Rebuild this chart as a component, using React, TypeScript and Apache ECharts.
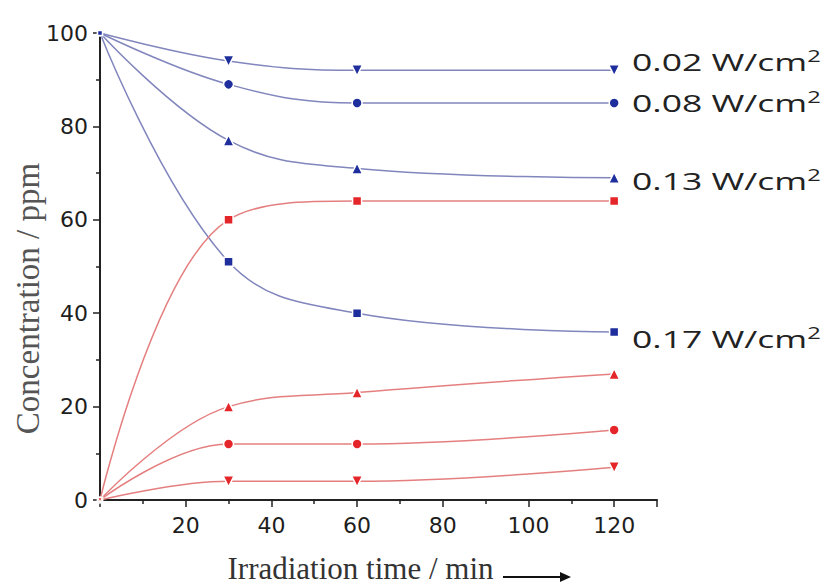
import React, { useEffect, useRef } from "react";
import * as echarts from "echarts";

const timeMin = [0, 30, 60, 120];
// blue: remaining concentration
const blue002 = [100, 94, 92, 92];
const blue008 = [100, 89, 85, 85];
const blue013 = [100, 77, 71, 69];
const blue017 = [100, 51, 40, 36];
// red: product concentration
const red017 = [0, 60, 64, 64];
const red013 = [0, 20, 23, 27];
const red008 = [0, 12, 12, 15];
const red002 = [0, 4, 4, 7];

const xTickLabels = [20, 40, 60, 80, 100, 120];
const yTickLabels = [0, 20, 40, 60, 80, 100];
const powerLabels = ["0.02", "0.08", "0.13", "0.17"];

const BLUE_LINE = "#8186bd";
const BLUE_MARK = "#1e2e9c";
const RED_LINE = "#e57f7f";
const RED_MARK = "#e4262a";

function mkSeries(name: string, vals: number[], symbol: string, rotate: number, lineColor: string, markColor: string, size: number) {
  return {
    name,
    type: "line",
    smooth: 0.4,
    data: timeMin.map((t, i) => [t, vals[i]]),
    symbol,
    symbolRotate: rotate,
    symbolSize: (v: number[]) => (v[0] === 0 ? 5 : size),
    showAllSymbol: true,
    lineStyle: { color: lineColor, width: 1.5 },
    itemStyle: { color: markColor, borderColor: "#ffffff", borderWidth: 1.5 },
    emphasis: { disabled: true },
  };
}

export default function App() {
  const ref = useRef<HTMLDivElement>(null);
  useEffect(() => {
    if (!ref.current) return;
    const chart = echarts.init(ref.current, null, { renderer: "svg" });
    const labelTops = [62, 103, 181, 339];
    const option = {
      animation: false,
      backgroundColor: "#ffffff",
      grid: { left: 100, top: 33, right: 168, bottom: 85, containLabel: false, outerBoundsMode: "none" },
      xAxis: {
        type: "value",
        min: 0,
        max: 130,
        interval: 20,
        name: "Irradiation time / min",
        nameLocation: "middle",
        nameGap: 53,
        nameTextStyle: {
          fontFamily: "Liberation Serif",
          fontSize: 31,
          color: "#333333",
          padding: [0, 36, 0, 0],
        },
        axisLine: { show: true, lineStyle: { color: "#222222", width: 2 } },
        axisTick: { show: true, inside: false, length: 7, lineStyle: { color: "#222222", width: 1.5 } },
        minorTick: { show: true, splitNumber: 2, length: 4, lineStyle: { color: "#222222", width: 1.5 } },
        splitLine: { show: false },
        axisLabel: {
          margin: 14,
          fontFamily: "DejaVu Sans",
          fontSize: 22,
          color: "#1e1e1e",
          formatter: (v: number) => (xTickLabels.indexOf(v) >= 0 ? String(v) : ""),
        },
      },
      yAxis: {
        type: "value",
        min: 0,
        max: 100,
        interval: 20,
        name: "Concentration / ppm",
        nameLocation: "middle",
        nameGap: 56,
        nameMoveOverlap: false,
        nameTextStyle: {
          fontFamily: "Liberation Serif",
          fontSize: 33,
          color: "#555555",
          padding: [0, 64, 0, 0],
        },
        axisLine: { show: true, lineStyle: { color: "#222222", width: 2 } },
        axisTick: { show: true, inside: false, length: 7, lineStyle: { color: "#222222", width: 1.5 } },
        minorTick: { show: true, splitNumber: 2, length: 4, lineStyle: { color: "#222222", width: 1.5 } },
        splitLine: { show: false },
        axisLabel: {
          margin: 12,
          fontFamily: "DejaVu Sans",
          fontSize: 22,
          color: "#1e1e1e",
          formatter: (v: number) => (yTickLabels.indexOf(v) >= 0 ? String(v) : ""),
        },
      },
      series: [
        mkSeries("0.02 W/cm2", blue002, "triangle", 180, BLUE_LINE, BLUE_MARK, 11),
        mkSeries("0.08 W/cm2", blue008, "circle", 0, BLUE_LINE, BLUE_MARK, 10),
        mkSeries("0.13 W/cm2", blue013, "triangle", 0, BLUE_LINE, BLUE_MARK, 11),
        mkSeries("0.17 W/cm2", blue017, "rect", 0, BLUE_LINE, BLUE_MARK, 9),
        mkSeries("0.17 W/cm2 product", red017, "rect", 0, RED_LINE, RED_MARK, 9),
        mkSeries("0.13 W/cm2 product", red013, "triangle", 0, RED_LINE, RED_MARK, 11),
        mkSeries("0.08 W/cm2 product", red008, "circle", 0, RED_LINE, RED_MARK, 10),
        mkSeries("0.02 W/cm2 product", red002, "triangle", 180, RED_LINE, RED_MARK, 11),
      ],
      graphic: [
        ...powerLabels.map((p, i) => ({
          type: "text",
          x: 632,
          y: labelTops[i],
          scaleX: 1.48,
          silent: true,
          style: {
            text: p + " W/cm{sup|2}",
            fontFamily: "Open Sans",
            fontSize: 24,
            lineHeight: 28,
            fill: "#222222",
            verticalAlign: "middle",
            align: "left",
            rich: {
              sup: { fontFamily: "Open Sans", fontSize: 16, lineHeight: 14, fill: "#222222", verticalAlign: "top" },
            },
          },
        })),
        {
          type: "line",
          silent: true,
          shape: { x1: 503, y1: 577, x2: 563, y2: 577 },
          style: { stroke: "#111111", lineWidth: 2 },
        },
        {
          type: "polygon",
          silent: true,
          shape: { points: [[571, 577], [560, 572], [560, 582]] },
          style: { fill: "#111111" },
        },
      ],
    };
    chart.setOption(option as any);
    return () => chart.dispose();
  }, []);
  return (
    <div
      ref={ref}
      style={{ position: "fixed", left: 0, top: 0, width: 825, height: 585, background: "#ffffff" }}
    />
  );
}
